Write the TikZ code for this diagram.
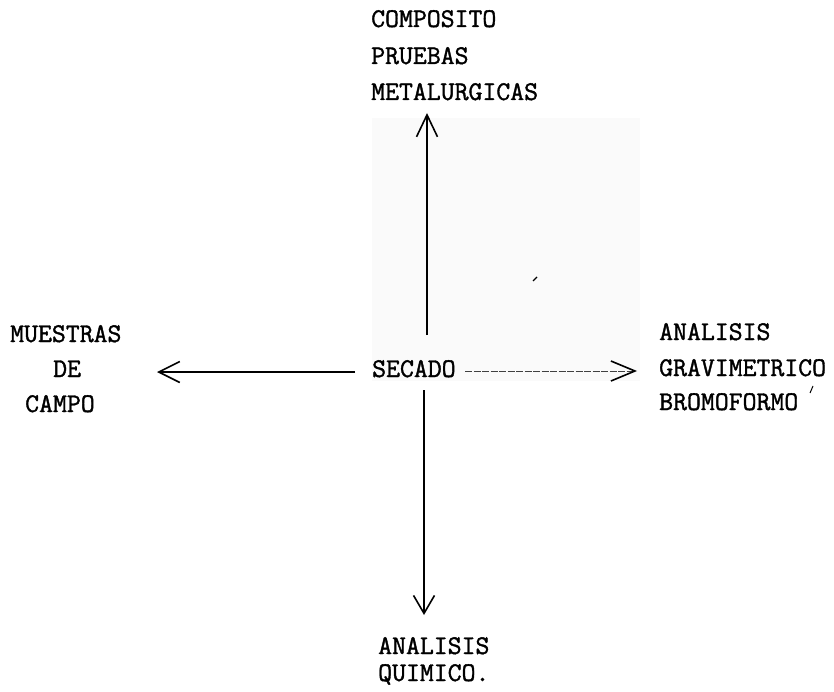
\documentclass[tikz,border=0pt]{standalone}
\usepackage{fontspec}
\setmonofont{Latin Modern Mono}[FakeBold=1.4]
\usetikzlibrary{arrows.meta}
\begin{document}
\begin{tikzpicture}[x=1pt,y=-1pt,
  lbl/.style={anchor=base west,inner sep=0pt,font=\fontsize{27}{27}\selectfont\ttfamily},
  flow/.style={line width=1.2pt},
  barb/.style={-{Straight Barb[length=#1,width=21pt,line width=1.6pt]}},
  barb/.default=20pt]
\useasboundingbox (0,0) rectangle (834,692);
% faint paper patch behind the centre
\fill[black!2] (372,118) rectangle (640,381);

% labels
\node[lbl] (comp)  at (371,27)  {COMPOSITO};
\node[lbl] (prue)  at (371,64)  {PRUEBAS};
\node[lbl] (meta)  at (371,100) {METALURGICAS};
\node[lbl] (mues)  at (10,342)  {MUESTRAS};
\node[lbl] (de)    at (53,377)  {DE};
\node[lbl] (campo) at (25,412)  {CAMPO};
\node[lbl] (secado) at (372,377) {SECADO};
\node[lbl] (anar)  at (659,340) {ANALISIS};
\node[lbl] (grav)  at (659,376) {GRAVIMETRICO};
\node[lbl] (bromo) at (659,410) {BROMOFORMO};
\node[lbl] (anab)  at (378,654) {ANALISIS};
\node[lbl] (quim)  at (378,681) {QUIMICO.};

% connector end points
\coordinate (upS)  at (427,335);
\coordinate (upE)  at (427,113);
\coordinate (dnS)  at (424,390);
\coordinate (dnE)  at (424,615);
\coordinate (ltS)  at (355,372);
\coordinate (ltE)  at (157,372);
\coordinate (rtS)  at (465,371);
\coordinate (rtE)  at (637,371);

% connectors
\draw[flow,barb=22pt] (upS) -- (upE);
\draw[flow,barb=18pt] (dnS) -- (dnE);
\draw[flow,barb=21pt] (ltS) -- (ltE);
\draw[line width=0.9pt,black!75,dash pattern=on 7pt off 1.5pt,
      -{Straight Barb[length=24pt,width=20pt,line width=1.6pt,black]}] (rtS) -- (rtE);

% small stray strokes
\draw[line width=1.2pt] (533,281) -- (537,277);
\draw[line width=1pt] (810,393) -- (813,386);
\end{tikzpicture}
\end{document}
